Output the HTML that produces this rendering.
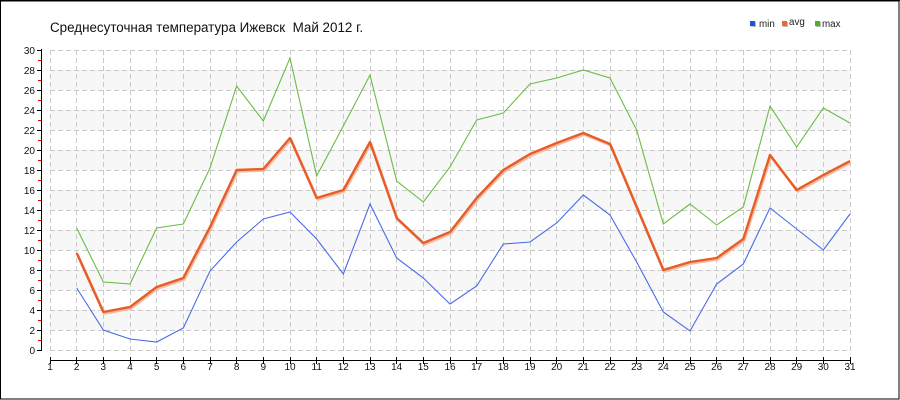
<!DOCTYPE html>
<html><head><meta charset="utf-8"><style>
html,body{margin:0;padding:0;background:#fff;}
svg{display:block;}
text{font-family:"Liberation Sans",sans-serif;}
</style></head><body>
<svg width="900" height="400" viewBox="0 0 900 400" xmlns="http://www.w3.org/2000/svg">
<rect x="0" y="0" width="900" height="400" fill="#fff"/>
<rect x="0.5" y="1" width="898.5" height="398" fill="none" stroke="#000" stroke-width="1"/>
<line x1="0" y1="0.5" x2="900" y2="0.5" stroke="#000"/>
<text x="50" y="32" font-size="13.4" fill="#111">Среднесуточная температура Ижевск&#160; Май 2012 г.</text>
<!-- legend -->
<rect x="751" y="22" width="5" height="5" fill="#bbb"/><rect x="750" y="21" width="5" height="5" fill="#2050e0"/>
<text x="759" y="27" font-size="9.8" fill="#222">min</text>
<rect x="783" y="22" width="5" height="5" fill="#bbb"/><rect x="782" y="21" width="5" height="5" fill="#e86a30"/>
<text x="789" y="25" font-size="9.8" fill="#222">avg</text>
<rect x="816" y="22" width="5" height="5" fill="#bbb"/><rect x="815" y="21" width="5" height="5" fill="#50b020"/>
<text x="822" y="27" font-size="9.8" fill="#222">max</text>
<!-- bands -->
<g fill="#f7f7f7">
<rect x="50" y="310" width="800" height="20"/><rect x="50" y="270" width="800" height="20"/>
<rect x="50" y="230" width="800" height="20"/><rect x="50" y="190" width="800" height="20"/>
<rect x="50" y="150" width="800" height="20"/><rect x="50" y="110" width="800" height="20"/>
<rect x="50" y="70" width="800" height="20"/>
</g>
<!-- grid -->
<path d="M50 50.5H851M50 70.5H851M50 90.5H851M50 110.5H851M50 130.5H851M50 150.5H851M50 170.5H851M50 190.5H851M50 210.5H851M50 230.5H851M50 250.5H851M50 270.5H851M50 290.5H851M50 310.5H851M50 330.5H851M50 350.5H851" stroke="#cacaca" stroke-width="1" stroke-dasharray="5,3" fill="none"/>
<path d="M50.5 50V351M76.5 50V351M103.5 50V351M130.5 50V351M156.5 50V351M183.5 50V351M210.5 50V351M236.5 50V351M263.5 50V351M290.5 50V351M316.5 50V351M343.5 50V351M370.5 50V351M396.5 50V351M423.5 50V351M450.5 50V351M476.5 50V351M503.5 50V351M530.5 50V351M556.5 50V351M583.5 50V351M610.5 50V351M636.5 50V351M663.5 50V351M690.5 50V351M716.5 50V351M743.5 50V351M770.5 50V351M796.5 50V351M823.5 50V351M850.5 50V351" stroke="#cacaca" stroke-width="1" stroke-dasharray="5,3" fill="none"/>
<!-- y axis -->
<line x1="41.5" y1="49" x2="41.5" y2="351" stroke="#000"/>
<path d="M37 50.5H42M37 70.5H42M37 90.5H42M37 110.5H42M37 130.5H42M37 150.5H42M37 170.5H42M37 190.5H42M37 210.5H42M37 230.5H42M37 250.5H42M37 270.5H42M37 290.5H42M37 310.5H42M37 330.5H42M37 350.5H42" stroke="#000"/>
<path d="M38 60.5H41M38 80.5H41M38 100.5H41M38 120.5H41M38 140.5H41M38 160.5H41M38 180.5H41M38 200.5H41M38 220.5H41M38 240.5H41M38 260.5H41M38 280.5H41M38 300.5H41M38 320.5H41M38 340.5H41" stroke="#e00000"/>
<g font-size="10" fill="#111" text-anchor="end">
<text x="35" y="54">30</text><text x="35" y="74">28</text><text x="35" y="94">26</text><text x="35" y="114">24</text>
<text x="35" y="134">22</text><text x="35" y="154">20</text><text x="35" y="174">18</text><text x="35" y="194">16</text>
<text x="35" y="214">14</text><text x="35" y="234">12</text><text x="35" y="254">10</text><text x="35" y="274">8</text>
<text x="35" y="294">6</text><text x="35" y="314">4</text><text x="35" y="334">2</text><text x="35" y="354">0</text>
</g>
<!-- x axis -->
<line x1="50" y1="360.5" x2="851" y2="360.5" stroke="#000"/>
<path d="M50.5 357V364M76.5 357V364M103.5 357V364M130.5 357V364M156.5 357V364M183.5 357V364M210.5 357V364M236.5 357V364M263.5 357V364M290.5 357V364M316.5 357V364M343.5 357V364M370.5 357V364M396.5 357V364M423.5 357V364M450.5 357V364M476.5 357V364M503.5 357V364M530.5 357V364M556.5 357V364M583.5 357V364M610.5 357V364M636.5 357V364M663.5 357V364M690.5 357V364M716.5 357V364M743.5 357V364M770.5 357V364M796.5 357V364M823.5 357V364M850.5 357V364" stroke="#000"/>
<g font-size="10" fill="#111" text-anchor="middle">
<text x="50" y="370">1</text><text x="76.7" y="370">2</text><text x="103.3" y="370">3</text><text x="130" y="370">4</text>
<text x="156.7" y="370">5</text><text x="183.3" y="370">6</text><text x="210" y="370">7</text><text x="236.7" y="370">8</text>
<text x="263.3" y="370">9</text><text x="290" y="370">10</text><text x="316.7" y="370">11</text><text x="343.3" y="370">12</text>
<text x="370" y="370">13</text><text x="396.7" y="370">14</text><text x="423.3" y="370">15</text><text x="450" y="370">16</text>
<text x="476.7" y="370">17</text><text x="503.3" y="370">18</text><text x="530" y="370">19</text><text x="556.7" y="370">20</text>
<text x="583.3" y="370">21</text><text x="610" y="370">22</text><text x="636.7" y="370">23</text><text x="663.3" y="370">24</text>
<text x="690" y="370">25</text><text x="716.7" y="370">26</text><text x="743.3" y="370">27</text><text x="770" y="370">28</text>
<text x="796.7" y="370">29</text><text x="823.3" y="370">30</text><text x="850" y="370">31</text>
</g>
<!-- max -->
<polyline fill="none" stroke="#6cbc44" stroke-width="1.1" points="76.67,228 103.33,282 130,284 156.67,228 183.33,224 210,168 236.67,86 263.33,121 290,58 316.67,176 343.33,126 370,75 396.67,181 423.33,202 450,167 476.67,120 503.33,113 530,84 556.67,78 583.33,70 610,78 636.67,130 663.33,224 690,204 716.67,225 743.33,207 770,106 796.67,147 823.33,108 850,123"/>
<!-- min -->
<polyline fill="none" stroke="#4a6be6" stroke-width="1.1" points="76.67,288 103.33,330 130,339 156.67,342 183.33,328 210,271 236.67,242 263.33,219 290,212 316.67,239 343.33,274 370,204 396.67,258 423.33,278 450,304 476.67,286 503.33,244 530,242 556.67,223 583.33,195 610,215 636.67,262 663.33,312 690,331 716.67,284 743.33,264 770,208 796.67,229 823.33,250 850,214"/>
<!-- avg shadow -->
<polyline fill="none" stroke="#f5bca4" stroke-width="2.6" stroke-linejoin="round" transform="translate(1,1.5)" points="76.67,253 103.33,312 130,307 156.67,287 183.33,278 210,227 236.67,170 263.33,169 290,138 316.67,198 343.33,190 370,142 396.67,218 423.33,243 450,232 476.67,198 503.33,170 530,154 556.67,143 583.33,133 610,144 636.67,207 663.33,270 690,262 716.67,258 743.33,239 770,155 796.67,190 823.33,175 850,161"/>
<!-- avg -->
<polyline fill="none" stroke="#e65d27" stroke-width="2.4" stroke-linejoin="round" points="76.67,253 103.33,312 130,307 156.67,287 183.33,278 210,227 236.67,170 263.33,169 290,138 316.67,198 343.33,190 370,142 396.67,218 423.33,243 450,232 476.67,198 503.33,170 530,154 556.67,143 583.33,133 610,144 636.67,207 663.33,270 690,262 716.67,258 743.33,239 770,155 796.67,190 823.33,175 850,161"/>
</svg>
</body></html>
